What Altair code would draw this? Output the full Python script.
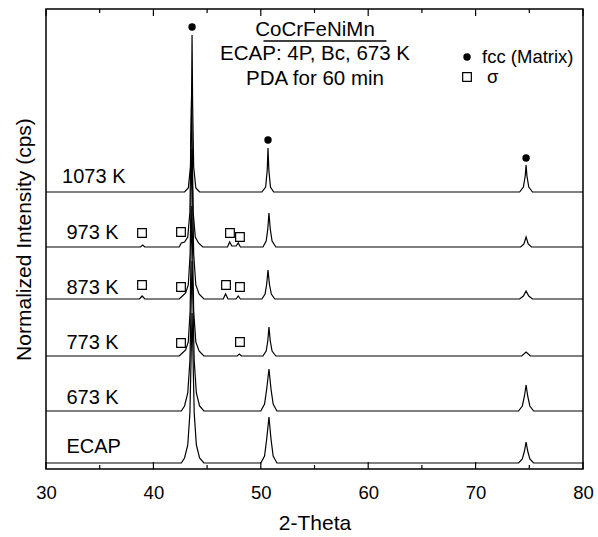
import altair as alt
import pandas as pd

# ---------------- data ----------------
names = ["1073 K", "973 K", "873 K", "773 K", "673 K", "ECAP"]
offsets = [277, 222, 170, 113, 58, 6]

two_theta = {
    "1073 K": [30, 42.9, 43.25, 43.45, 43.55, 43.6, 43.65, 43.75, 43.95, 44.3,
               50.1, 50.45, 50.6, 50.67, 50.75, 50.9, 51.2,
               74.1, 74.45, 74.62, 74.7, 74.78, 74.95, 75.3, 80],
    "973 K": [30, 38.8, 39.0, 39.2, 42.4, 42.6, 42.9, 43.2, 43.4, 43.55, 43.7, 43.9, 44.2, 44.6,
              46.9, 47.1, 47.3, 47.7, 47.9, 48.1,
              50.2, 50.5, 50.65, 50.76, 50.88, 51.05, 51.4,
              74.2, 74.5, 74.7, 74.9, 75.2, 80],
    "873 K": [30, 38.7, 38.95, 39.2, 42.4, 42.7, 43.0, 43.25, 43.42, 43.58, 43.75, 43.95, 44.25, 44.7,
              46.5, 46.72, 46.95, 47.7, 47.9, 48.1,
              50.1, 50.4, 50.55, 50.67, 50.8, 50.98, 51.3,
              74.1, 74.45, 74.7, 74.95, 75.3, 80],
    "773 K": [30, 42.4, 42.7, 43.0, 43.25, 43.42, 43.58, 43.75, 43.95, 44.25, 44.7,
              47.8, 48.0, 48.2,
              50.2, 50.5, 50.65, 50.76, 50.88, 51.05, 51.4,
              74.3, 74.7, 75.1, 80],
    "673 K": [30, 42.6, 42.9, 43.2, 43.4, 43.6, 43.8, 44.0, 44.3, 44.7,
              50.0, 50.35, 50.55, 50.76, 50.95, 51.15, 51.5,
              74.0, 74.35, 74.55, 74.7, 74.85, 75.05, 75.4, 80],
    "ECAP": [30, 42.6, 42.9, 43.2, 43.4, 43.6, 43.8, 44.0, 44.3, 44.7,
             50.0, 50.35, 50.55, 50.76, 50.95, 51.15, 51.5,
             74.0, 74.35, 74.55, 74.7, 74.85, 75.05, 75.4, 80],
}
intensity = {
    "1073 K": [0, 0, 4, 25, 90, 157, 90, 25, 4, 0,
               0, 5, 22, 44, 22, 5, 0,
               0, 5, 16, 27, 16, 5, 0, 0],
    "973 K": [0, 0, 2, 0, 0, 4, 5, 10, 35, 150, 35, 10, 4, 0,
              0, 5, 1, 1, 4, 0,
              0, 6, 18, 34, 18, 6, 0,
              0, 3, 10, 3, 0, 0],
    "873 K": [0, 0, 3, 0, 0, 3, 6, 14, 45, 150, 45, 14, 5, 0,
              0, 5, 0, 0, 3, 0,
              0, 5, 15, 29, 15, 5, 0,
              0, 3, 8, 3, 0, 0],
    "773 K": [0, 0, 3, 6, 14, 45, 150, 45, 14, 5, 0,
              0, 2, 0,
              0, 5, 15, 29, 15, 5, 0,
              0, 4, 0, 0],
    "673 K": [0, 0, 5, 18, 50, 150, 50, 18, 5, 0,
              0, 7, 22, 42, 22, 7, 0,
              0, 5, 15, 26, 15, 5, 0, 0],
    "ECAP": [0, 0, 5, 18, 50, 150, 50, 18, 5, 0,
             0, 7, 24, 46, 24, 7, 0,
             0, 4, 12, 21, 12, 4, 0, 0],
}

label_x = [31.5, 31.9, 31.9, 31.9, 31.9, 31.9]
label_y = [292, 236, 181, 126, 71, 22]

fcc_x = [43.6, 50.67, 74.7]
fcc_y = [442, 329, 311]

sigma_x = [38.94, 42.57, 47.13, 48.06, 38.94, 42.57, 46.76, 48.06, 42.57, 48.06]
sigma_y = [236, 237, 236, 232, 184, 182, 184, 182, 126, 127]

title_lines = ["CoCrFeNiMn", "ECAP: 4P, Bc, 673 K", "PDA for 60 min"]
title_x = 55.05
title_y = [439, 415, 390]
underline_x = [50.25, 61.7]
underline_y = 428

legend_labels = ["fcc (Matrix)", "σ"]
legend_sym_x = 69.2
legend_text_x = [70.6, 71.05]
legend_y = [412, 392]

major_ticks = [30, 40, 50, 60, 70, 80]
minor_ticks = [35, 45, 55, 65, 75]

# ---------------- build tables ----------------
rows = []
for order, (n, off) in enumerate(zip(names, offsets)):
    for xv, yv in zip(two_theta[n], intensity[n]):
        rows.append({"trace": n, "order": order, "x": xv, "y": yv + off})
df = pd.DataFrame(rows)

FONT = "Liberation Sans"
xs = alt.Scale(domain=[30, 80], nice=False, zero=False)
ys = alt.Scale(domain=[0, 460], nice=False, zero=False)

lines = alt.Chart(df).mark_line(color="black", strokeWidth=1.2, interpolate="linear").encode(
    x=alt.X("x:Q", scale=xs, axis=alt.Axis(
        values=major_ticks, ticks=False, domain=False, grid=False, labelFlush=False,
        labelFont=FONT, labelFontSize=18.5, labelColor="black", labelPadding=14,
        title="2-Theta", titleFont=FONT, titleFontSize=21, titleFontWeight="normal",
        titleColor="black", titlePadding=11)),
    y=alt.Y("y:Q", scale=ys, axis=alt.Axis(
        labels=False, ticks=False, domain=False, grid=False,
        title="Normalized Intensity (cps)", titleFont=FONT, titleFontSize=21,
        titleFontWeight="normal", titleColor="black", titlePadding=12)),
    detail="trace:N",
)

lab_df = pd.DataFrame({"x": label_x, "y": label_y, "t": names})
labels = alt.Chart(lab_df).mark_text(font=FONT, fontSize=20, align="left", baseline="middle",
                                     color="black").encode(
    x=alt.X("x:Q", scale=xs), y=alt.Y("y:Q", scale=ys), text="t:N")

fcc_df = pd.DataFrame({"x": fcc_x, "y": fcc_y})
fcc = alt.Chart(fcc_df).mark_point(shape="circle", filled=True, color="black", size=55, opacity=1).encode(
    x=alt.X("x:Q", scale=xs), y=alt.Y("y:Q", scale=ys))

sig_df = pd.DataFrame({"x": sigma_x, "y": sigma_y})
sig = alt.Chart(sig_df).mark_point(shape="square", filled=False, color="black", size=75,
                                   strokeWidth=1.2, opacity=1).encode(
    x=alt.X("x:Q", scale=xs), y=alt.Y("y:Q", scale=ys))

tdf = pd.DataFrame({"x": [title_x] * 3, "y": title_y, "t": title_lines})
title = alt.Chart(tdf).mark_text(font=FONT, fontSize=20.5, align="center", baseline="middle",
                                 color="black").encode(
    x=alt.X("x:Q", scale=xs), y=alt.Y("y:Q", scale=ys), text="t:N")

ul_df = pd.DataFrame({"x": [underline_x[0]], "x2": [underline_x[1]], "y": [underline_y]})
underline = alt.Chart(ul_df).mark_rule(color="black", strokeWidth=1.3).encode(
    x=alt.X("x:Q", scale=xs), x2="x2:Q", y=alt.Y("y:Q", scale=ys))

leg_sym_df = pd.DataFrame({"x": [legend_sym_x], "y": [legend_y[0]]})
leg_dot = alt.Chart(leg_sym_df).mark_point(shape="circle", filled=True, color="black", size=55, opacity=1).encode(
    x=alt.X("x:Q", scale=xs), y=alt.Y("y:Q", scale=ys))
leg_sq_df = pd.DataFrame({"x": [legend_sym_x], "y": [legend_y[1]]})
leg_sq = alt.Chart(leg_sq_df).mark_point(shape="square", filled=False, color="black", size=75,
                                         strokeWidth=1.2, opacity=1).encode(
    x=alt.X("x:Q", scale=xs), y=alt.Y("y:Q", scale=ys))
leg_txt_df = pd.DataFrame({"x": legend_text_x, "y": legend_y, "t": legend_labels})
leg_txt = alt.Chart(leg_txt_df).mark_text(font=FONT, fontSize=18.5, align="left", baseline="middle",
                                          color="black").encode(
    x=alt.X("x:Q", scale=xs), y=alt.Y("y:Q", scale=ys), text="t:N")

# inward ticks on bottom and top
maj_df = pd.DataFrame({"x": major_ticks})
min_df = pd.DataFrame({"x": minor_ticks})
tick_bottom_major = alt.Chart(maj_df).mark_rule(color="black", strokeWidth=1.2).encode(
    x=alt.X("x:Q", scale=xs), y=alt.value(460), y2=alt.value(453))
tick_bottom_minor = alt.Chart(min_df).mark_rule(color="black", strokeWidth=1.2).encode(
    x=alt.X("x:Q", scale=xs), y=alt.value(460), y2=alt.value(456))
tick_top_major = alt.Chart(maj_df).mark_rule(color="black", strokeWidth=1.2).encode(
    x=alt.X("x:Q", scale=xs), y=alt.value(0), y2=alt.value(7))
tick_top_minor = alt.Chart(min_df).mark_rule(color="black", strokeWidth=1.2).encode(
    x=alt.X("x:Q", scale=xs), y=alt.value(0), y2=alt.value(4))

chart = alt.layer(
    lines, labels, fcc, sig, title, underline, leg_dot, leg_sq, leg_txt,
    tick_bottom_major, tick_bottom_minor, tick_top_major, tick_top_minor,
).properties(
    width=537, height=460,
    autosize=alt.AutoSizeParams(type="none"),
    padding={"left": 46, "top": 9, "right": 15, "bottom": 68},
    background="white",
).configure_view(stroke="black", strokeWidth=1.5)

chart.save("out.html", embed_options={"renderer": "svg", "actions": False})
